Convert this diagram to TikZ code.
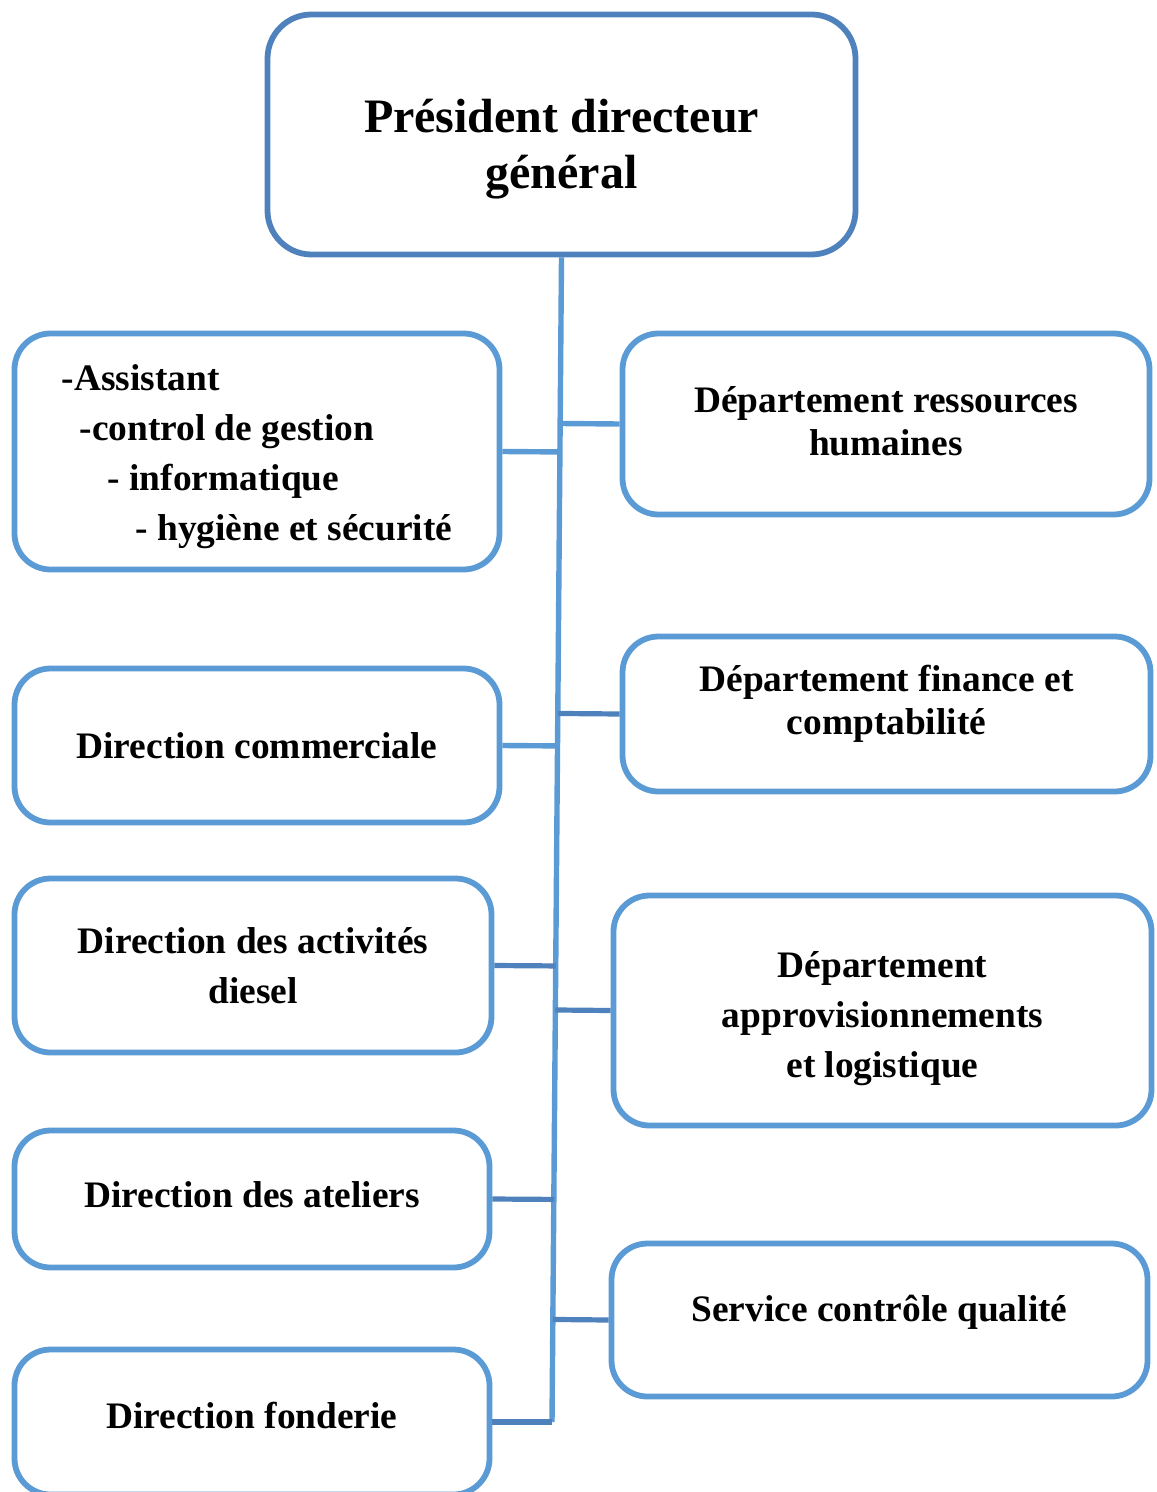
\documentclass[tikz,border=0pt]{standalone}
\usepackage{fontspec}
\setmainfont{Liberation Serif}
\usetikzlibrary{calc}
\definecolor{lightblue}{HTML}{5B9BD5}
\definecolor{darkblue}{HTML}{4F81BD}
\newcommand\padtop[1]{\rule{0pt}{#1}}
\newcommand\padbot[1]{\rule[-#1]{0pt}{0pt}}
\begin{document}
\begin{tikzpicture}[x=0.5pt,y=-0.5pt,
  box/.style={draw=lightblue, line width=2.9pt, rounded corners=18pt, align=center,
    font=\bfseries\fontsize{18.7}{21.5}\selectfont, inner sep=0pt},
  lnk/.style={line width=2.7pt, draw=lightblue},
  lnkd/.style={line width=2.6pt, draw=darkblue}]
\useasboundingbox (0,0) rectangle (1156,1492);
\clip (0,0) rectangle (1156,1492);
% boxes
\node[box, draw=darkblue, rounded corners=22pt, minimum width=294pt, minimum height=120pt,
  font=\bfseries\fontsize{24}{28}\selectfont] (pdg) at (561.5,134.5)
  {\padtop{31pt}Président directeur\\général};
\node[box, minimum width=242.5pt, minimum height=118pt, align=left,
  font=\bfseries\fontsize{18.7}{25}\selectfont] (assist) at (257,451.5)
  {\padtop{17.7pt}-Assistant\\\hspace*{9pt}-control de gestion\\\hspace*{23pt}- informatique\\\hspace*{37pt}- hygiène et sécurité};
\node[box, minimum width=263.5pt, minimum height=90.5pt] (rh) at (886,424)
  {Département ressources\\humaines\padbot{3pt}};
\node[box, minimum width=242.5pt, minimum height=77pt] (com) at (257,745.5) {Direction commerciale};
\node[box, minimum width=264pt, minimum height=77.5pt] (fin) at (886.5,714)
  {Département finance et\\comptabilité\padbot{14pt}};
\node[box, minimum width=238.5pt, minimum height=87pt, font=\bfseries\fontsize{18.7}{25}\selectfont] (diesel) at (253,965.5)
  {Direction des activités\\diesel};
\node[box, minimum width=269pt, minimum height=115pt, font=\bfseries\fontsize{18.7}{25}\selectfont] (appro) at (882.5,1010.5)
  {\padtop{20.7pt}Département\\approvisionnements\\et logistique};
\node[box, minimum width=237.5pt, minimum height=68.5pt] (atel) at (252,1199)
  {Direction des ateliers\padbot{4pt}};
\node[box, minimum width=268pt, minimum height=76.5pt] (qual) at (879.5,1320)
  {Service contrôle qualité\padbot{12pt}};
\node[box, minimum width=237.5pt, minimum height=72.5pt] (fond) at (252,1422)
  {Direction fonderie\padbot{7pt}};
% trunk
\coordinate (T) at (pdg.south);
\coordinate (B) at (552,1422);
\draw[lnk] (T) -- (B);
% branches
\draw[lnk]  (assist.east) -- ($(T)!(assist.east)!(B)$);
\draw[lnk]  (rh.west) -- ($(T)!(rh.west)!(B)$);
\draw[lnkd] (fin.west) -- ($(T)!(fin.west)!(B)$);
\draw[lnk]  (com.east) -- ($(T)!(com.east)!(B)$);
\draw[lnkd] (diesel.east) -- ($(T)!(diesel.east)!(B)$);
\draw[lnkd] (appro.west) -- ($(T)!(appro.west)!(B)$);
\draw[lnkd] (atel.east) -- ($(T)!(atel.east)!(B)$);
\draw[lnkd] (qual.west) -- ($(T)!(qual.west)!(B)$);
\draw[lnkd] (fond.east) -- (B);
\end{tikzpicture}
\end{document}
